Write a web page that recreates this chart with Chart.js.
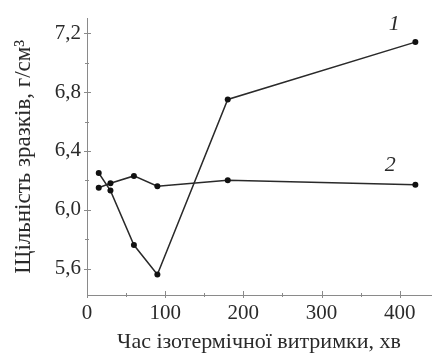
<!DOCTYPE html>
<html>
<head>
<meta charset="utf-8">
<script src="https://cdn.jsdelivr.net/npm/chart.js@4"></script>
<style>
  html, body { margin: 0; padding: 0; background: #fff; }
  #wrap { width: 435px; height: 355px; }
</style>
</head>
<body>
<div id="wrap"><canvas id="densityChart"></canvas></div>
<script>
// Data
const times1 = [15, 30, 60, 90, 180, 420];
const density1 = [6.25, 6.13, 5.76, 5.56, 6.75, 7.14];
const times2 = [15, 30, 60, 90, 180, 420];
const density2 = [6.15, 6.18, 6.23, 6.16, 6.20, 6.17];

const xTicks = [0, 100, 200, 300, 400];
const xMinor = [50, 150, 250, 350];
const yTicks = [5.6, 6.0, 6.4, 6.8, 7.2];
const yMinor = [5.8, 6.2, 6.6, 7.0];

const curveLabels = ['1', '2'];
const curveLabelPos = [[393, 7.26], [388, 6.3]];

const serif = '"Liberation Serif", "DejaVu Serif", serif';
const axisColor = '#8a8a8a';
const inkColor = '#2a2a2a';

// Small tick marks crossing the axes, plus the curve numbers
const marksPlugin = {
    id: 'marks',
    afterDraw(chart) {
        const ctx = chart.ctx;
        const xs = chart.scales.x;
        const ys = chart.scales.y;
        const area = chart.chartArea;
        ctx.save();
        ctx.strokeStyle = axisColor;
        ctx.lineWidth = 1;
        ctx.beginPath();
        xTicks.forEach(v => {
            const px = Math.round(xs.getPixelForValue(v)) + 0.5;
            ctx.moveTo(px, area.bottom - 4);
            ctx.lineTo(px, area.bottom + 3);
        });
        xMinor.forEach(v => {
            const px = Math.round(xs.getPixelForValue(v)) + 0.5;
            ctx.moveTo(px, area.bottom - 2);
            ctx.lineTo(px, area.bottom + 2);
        });
        yTicks.forEach(v => {
            const py = Math.round(ys.getPixelForValue(v)) + 0.5;
            ctx.moveTo(area.left - 3, py);
            ctx.lineTo(area.left + 4, py);
        });
        yMinor.forEach(v => {
            const py = Math.round(ys.getPixelForValue(v)) + 0.5;
            ctx.moveTo(area.left - 2, py);
            ctx.lineTo(area.left + 2, py);
        });
        ctx.stroke();

        ctx.fillStyle = inkColor;
        ctx.font = 'italic 22px ' + serif;
        ctx.textAlign = 'center';
        ctx.textBaseline = 'middle';
        curveLabels.forEach((t, i) => {
            const p = curveLabelPos[i];
            ctx.fillText(t, xs.getPixelForValue(p[0]), ys.getPixelForValue(p[1]));
        });
        ctx.restore();
    }
};

const ctx = document.getElementById('densityChart').getContext('2d');

new Chart(ctx, {
    type: 'line',
    data: {
        datasets: [{
            label: '1',
            data: times1.map((t, i) => ({ x: t, y: density1[i] })),
            borderColor: inkColor,
            backgroundColor: '#111',
            borderWidth: 1.5,
            pointRadius: 3,
            pointBorderWidth: 0,
            tension: 0
        }, {
            label: '2',
            data: times2.map((t, i) => ({ x: t, y: density2[i] })),
            borderColor: inkColor,
            backgroundColor: '#111',
            borderWidth: 1.5,
            pointRadius: 3,
            pointBorderWidth: 0,
            tension: 0
        }]
    },
    options: {
        responsive: true,
        maintainAspectRatio: false,
        animation: false,
        layout: { padding: { top: 10, right: 0, left: 10, bottom: 0 } },
        plugins: {
            legend: { display: false },
            tooltip: { enabled: false }
        },
        scales: {
            x: {
                type: 'linear',
                min: 0,
                max: 440,
                afterBuildTicks: scale => {
                    scale.ticks = xTicks.map(v => ({ value: v }));
                },
                afterFit: scale => { scale.height = 60; },
                grid: { display: false, drawTicks: false },
                border: { color: axisColor, width: 1 },
                ticks: {
                    color: inkColor,
                    padding: 6,
                    maxRotation: 0,
                    font: { family: serif, size: 21 }
                },
                title: {
                    display: true,
                    text: 'Час ізотермічної витримки, хв',
                    color: inkColor,
                    padding: { top: 0, bottom: 0 },
                    font: { family: serif, size: 22 }
                }
            },
            y: {
                type: 'linear',
                min: 5.42,
                max: 7.3,
                afterBuildTicks: scale => {
                    scale.ticks = yTicks.map(v => ({ value: v }));
                },
                afterFit: scale => { scale.width = 77; },
                grid: { display: false, drawTicks: false },
                border: { color: axisColor, width: 1 },
                ticks: {
                    color: inkColor,
                    padding: 6,
                    font: { family: serif, size: 21 },
                    callback: v => v.toFixed(1).replace('.', ',')
                },
                title: {
                    display: true,
                    text: 'Щільність зразків, г/см³',
                    color: inkColor,
                    padding: { top: 0, bottom: 2 },
                    font: { family: serif, size: 23 }
                }
            }
        }
    },
    plugins: [marksPlugin]
});
</script>
</body>
</html>
